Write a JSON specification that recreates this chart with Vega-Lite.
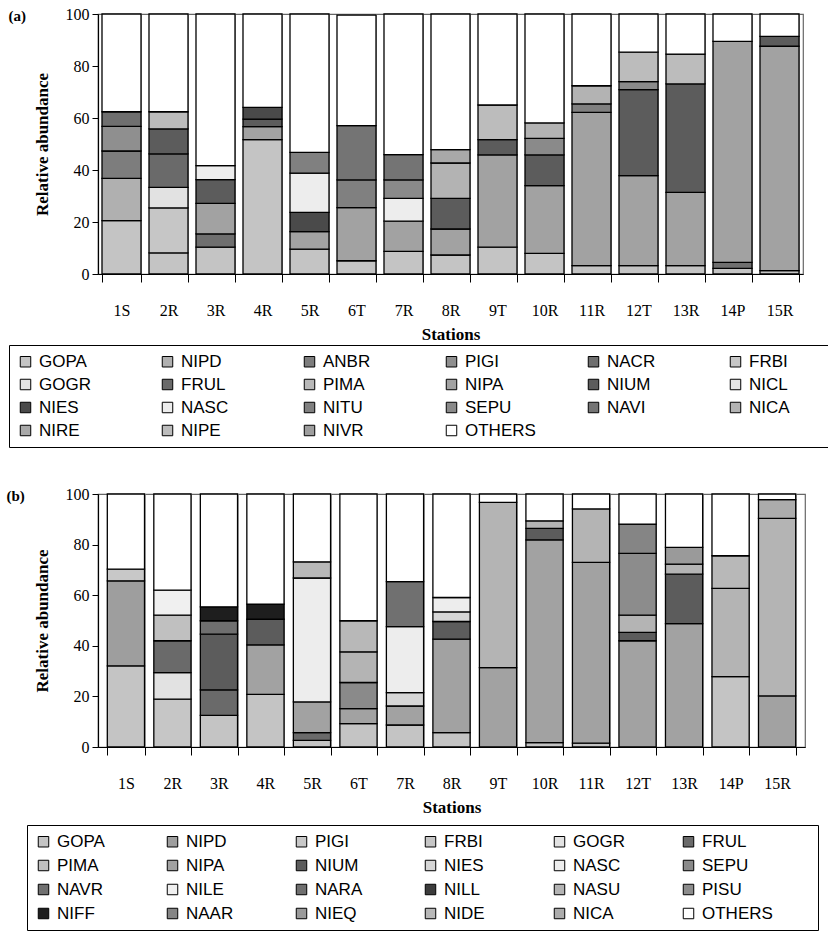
{
  "$schema": "https://vega.github.io/schema/vega-lite/v6.json",
  "padding": {"left": 5, "top": 5, "right": 0, "bottom": 0},
  "background": "white",
  "config": {
    "view": {"stroke": "#666", "strokeWidth": 1.2},
    "axis": {
      "labelFont": "Liberation Serif, Times New Roman, serif", "titleFont": "Liberation Serif, Times New Roman, serif",
      "labelFontSize": 16, "titleFontSize": 17, "titleFontWeight": "bold",
      "labelColor": "black", "titleColor": "black",
      "domainColor": "black", "tickColor": "black", "domainWidth": 1.2
    },
    "legend": {
      "labelFont": "Liberation Sans, Arial, sans-serif", "labelFontSize": 17, "labelColor": "black",
      "symbolType": "square", "symbolSize": 110, "symbolStrokeColor": "black", "symbolStrokeWidth": 1,
      "strokeColor": "black", "padding": 8, "rowPadding": 5, "gridAlign": "all",
      "labelOffset": 5, "columns": 6, "direction": "horizontal",
      "titleOrient": "right", "titleFontSize": 4
    },
    "title": {"font": "Liberation Serif, Times New Roman, serif", "fontSize": 15, "fontWeight": "bold", "color": "black"}
  },
  "datasets": {
    "a": [
      {"station":"1S","species":"GOPA","value":20.5},{"station":"1S","species":"NIPD","value":16.3},{"station":"1S","species":"ANBR","value":10.5},{"station":"1S","species":"PIGI","value":9.5},{"station":"1S","species":"NACR","value":5.6},{"station":"1S","species":"OTHERS","value":37.6},
      {"station":"2R","species":"GOPA","value":8.1},{"station":"2R","species":"FRBI","value":17.3},{"station":"2R","species":"GOGR","value":7.9},{"station":"2R","species":"FRUL","value":12.9},{"station":"2R","species":"NIUM","value":9.6},{"station":"2R","species":"NIPE","value":6.6},{"station":"2R","species":"OTHERS","value":37.6},
      {"station":"3R","species":"GOPA","value":10.3},{"station":"3R","species":"NACR","value":5.1},{"station":"3R","species":"NIPA","value":11.8},{"station":"3R","species":"NIUM","value":9.1},{"station":"3R","species":"NASC","value":5.4},{"station":"3R","species":"OTHERS","value":58.3},
      {"station":"4R","species":"GOPA","value":51.7},{"station":"4R","species":"NIPA","value":5.0},{"station":"4R","species":"NIUM","value":2.9},{"station":"4R","species":"NIES","value":4.5},{"station":"4R","species":"OTHERS","value":35.9},
      {"station":"5R","species":"GOPA","value":9.6},{"station":"5R","species":"NIPA","value":6.7},{"station":"5R","species":"NIES","value":7.4},{"station":"5R","species":"NASC","value":15.1},{"station":"5R","species":"NITU","value":8.0},{"station":"5R","species":"OTHERS","value":53.2},
      {"station":"6T","species":"GOPA","value":5.1},{"station":"6T","species":"NIPA","value":20.4},{"station":"6T","species":"NITU","value":10.7},{"station":"6T","species":"NAVI","value":20.9},{"station":"6T","species":"OTHERS","value":42.5},
      {"station":"7R","species":"GOPA","value":8.7},{"station":"7R","species":"NIPA","value":11.6},{"station":"7R","species":"NASC","value":8.8},{"station":"7R","species":"SEPU","value":7.1},{"station":"7R","species":"NAVI","value":9.7},{"station":"7R","species":"OTHERS","value":54.1},
      {"station":"8R","species":"GOPA","value":7.3},{"station":"8R","species":"NIPA","value":10.0},{"station":"8R","species":"NIUM","value":11.8},{"station":"8R","species":"NICA","value":13.6},{"station":"8R","species":"NIRE","value":5.1},{"station":"8R","species":"OTHERS","value":52.2},
      {"station":"9T","species":"GOPA","value":10.3},{"station":"9T","species":"NIPA","value":35.5},{"station":"9T","species":"NIUM","value":5.9},{"station":"9T","species":"NIPE","value":13.3},{"station":"9T","species":"OTHERS","value":35.0},
      {"station":"10R","species":"GOPA","value":7.9},{"station":"10R","species":"NIPA","value":26.1},{"station":"10R","species":"NIUM","value":11.8},{"station":"10R","species":"SEPU","value":6.4},{"station":"10R","species":"NICA","value":5.9},{"station":"10R","species":"OTHERS","value":41.9},
      {"station":"11R","species":"GOPA","value":3.2},{"station":"11R","species":"NIPA","value":59.0},{"station":"11R","species":"NITU","value":3.2},{"station":"11R","species":"NICA","value":7.0},{"station":"11R","species":"OTHERS","value":27.6},
      {"station":"12T","species":"GOPA","value":3.2},{"station":"12T","species":"NIPA","value":34.6},{"station":"12T","species":"NIUM","value":33.1},{"station":"12T","species":"SEPU","value":3.1},{"station":"12T","species":"NIPE","value":11.3},{"station":"12T","species":"OTHERS","value":14.7},
      {"station":"13R","species":"GOPA","value":3.2},{"station":"13R","species":"NIPA","value":28.2},{"station":"13R","species":"NIUM","value":41.7},{"station":"13R","species":"NIPE","value":11.5},{"station":"13R","species":"OTHERS","value":15.4},
      {"station":"14P","species":"GOPA","value":2.2},{"station":"14P","species":"NACR","value":2.3},{"station":"14P","species":"NIPA","value":85.0},{"station":"14P","species":"OTHERS","value":10.5},
      {"station":"15R","species":"GOPA","value":1.3},{"station":"15R","species":"NIPA","value":86.3},{"station":"15R","species":"NIUM","value":3.8},{"station":"15R","species":"OTHERS","value":8.6}
    ],
    "b": [
      {"station":"1S","species":"GOPA","value":32.1},{"station":"1S","species":"NIPD","value":33.6},{"station":"1S","species":"PIGI","value":4.6},{"station":"1S","species":"OTHERS","value":29.7},
      {"station":"2R","species":"FRBI","value":18.9},{"station":"2R","species":"GOGR","value":10.5},{"station":"2R","species":"FRUL","value":12.6},{"station":"2R","species":"PIMA","value":10.1},{"station":"2R","species":"NILE","value":9.9},{"station":"2R","species":"OTHERS","value":38.0},
      {"station":"3R","species":"GOPA","value":12.5},{"station":"3R","species":"FRUL","value":10.1},{"station":"3R","species":"NIUM","value":22.0},{"station":"3R","species":"NARA","value":5.3},{"station":"3R","species":"NIFF","value":5.5},{"station":"3R","species":"OTHERS","value":44.6},
      {"station":"4R","species":"GOPA","value":20.8},{"station":"4R","species":"NIPA","value":19.6},{"station":"4R","species":"NIUM","value":10.1},{"station":"4R","species":"NIFF","value":6.0},{"station":"4R","species":"OTHERS","value":43.5},
      {"station":"5R","species":"GOPA","value":2.6},{"station":"5R","species":"FRUL","value":3.1},{"station":"5R","species":"NIPA","value":12.1},{"station":"5R","species":"NASC","value":49.0},{"station":"5R","species":"NIDE","value":6.4},{"station":"5R","species":"OTHERS","value":26.8},
      {"station":"6T","species":"GOPA","value":9.2},{"station":"6T","species":"NIPA","value":6.0},{"station":"6T","species":"SEPU","value":10.3},{"station":"6T","species":"NASU","value":12.1},{"station":"6T","species":"NIDE","value":12.3},{"station":"6T","species":"OTHERS","value":50.1},
      {"station":"7R","species":"GOPA","value":8.7},{"station":"7R","species":"NIPA","value":7.5},{"station":"7R","species":"NIES","value":5.3},{"station":"7R","species":"NASC","value":26.1},{"station":"7R","species":"NAVR","value":17.8},{"station":"7R","species":"OTHERS","value":34.6},
      {"station":"8R","species":"GOPA","value":5.7},{"station":"8R","species":"NIPA","value":36.9},{"station":"8R","species":"NIUM","value":7.0},{"station":"8R","species":"NIES","value":3.8},{"station":"8R","species":"NASC","value":5.7},{"station":"8R","species":"OTHERS","value":40.9},
      {"station":"9T","species":"NIPA","value":31.4},{"station":"9T","species":"NASU","value":65.3},{"station":"9T","species":"OTHERS","value":3.3},
      {"station":"10R","species":"GOPA","value":1.7},{"station":"10R","species":"NIPA","value":80.2},{"station":"10R","species":"NIUM","value":4.5},{"station":"10R","species":"NASU","value":3.0},{"station":"10R","species":"OTHERS","value":10.6},
      {"station":"11R","species":"GOPA","value":1.5},{"station":"11R","species":"NIPA","value":71.5},{"station":"11R","species":"NASU","value":21.1},{"station":"11R","species":"OTHERS","value":5.9},
      {"station":"12T","species":"NIPA","value":42.0},{"station":"12T","species":"NIUM","value":3.3},{"station":"12T","species":"NASU","value":6.8},{"station":"12T","species":"PISU","value":24.4},{"station":"12T","species":"NAAR","value":11.6},{"station":"12T","species":"OTHERS","value":11.9},
      {"station":"13R","species":"NIPA","value":48.8},{"station":"13R","species":"NIUM","value":19.5},{"station":"13R","species":"NASU","value":4.0},{"station":"13R","species":"NIEQ","value":6.6},{"station":"13R","species":"OTHERS","value":21.1},
      {"station":"14P","species":"GOPA","value":27.8},{"station":"14P","species":"NASU","value":34.9},{"station":"14P","species":"NIDE","value":12.9},{"station":"14P","species":"OTHERS","value":24.4},
      {"station":"15R","species":"NIPA","value":20.2},{"station":"15R","species":"NASU","value":70.2},{"station":"15R","species":"NICA","value":7.4},{"station":"15R","species":"OTHERS","value":2.2}
    ]
  },
  "vconcat": [
    {
      "title": {"text": "(a)", "anchor": "start", "frame": "bounds", "offset": -18, "dx": 0},
      "width": 705, "height": 260,
      "data": {"name": "a"},
      "transform": [{"calculate": "indexof(['GOPA','NIPD','ANBR','PIGI','NACR','FRBI','GOGR','FRUL','PIMA','NIPA','NIUM','NICL','NIES','NASC','NITU','SEPU','NAVI','NICA','NIRE','NIPE','NIVR','OTHERS'], datum.species)", "as": "rank"}],
      "mark": {"type": "bar", "stroke": "black", "strokeWidth": 1.3},
      "encoding": {
        "x": {"field": "station", "type": "nominal",
          "sort": ["1S","2R","3R","4R","5R","6T","7R","8R","9T","10R","11R","12T","13R","14P","15R"],
          "scale": {"paddingInner": 0.17, "paddingOuter": 0.085},
          "axis": {"title": "Stations", "labelAngle": 0, "tickBand": "extent", "grid": true, "gridColor": "#aaa", "tickSize": 8, "labelPadding": 20, "titlePadding": 8}},
        "y": {"field": "value", "type": "quantitative", "stack": "zero",
          "scale": {"domain": [0, 100], "nice": false},
          "axis": {"values": [0,20,40,60,80,100], "title": "Relative abundance", "grid": false, "tickSize": 6, "labelPadding": 3, "titlePadding": 14}},
        "order": {"field": "rank", "type": "quantitative", "sort": "ascending"},
        "color": {"field": "species", "type": "nominal",
          "scale": {
            "domain": ["GOPA","NIPD","ANBR","PIGI","NACR","FRBI","GOGR","FRUL","PIMA","NIPA","NIUM","NICL","NIES","NASC","NITU","SEPU","NAVI","NICA","NIRE","NIPE","NIVR","OTHERS"],
            "range": ["#c4c4c4","#b0b0b0","#7d7d7d","#8f8f8f","#6f6f6f","#c6c6c6","#e2e2e2","#6a6a6a","#b8b8b8","#a2a2a2","#5c5c5c","#e6e6e6","#4a4a4a","#ededed","#808080","#8a8a8a","#747474","#b3b3b3","#a9a9a9","#bcbcbc","#9e9e9e","#ffffff"]},
          "legend": {"title": " ", "titlePadding": 43, "orient": "none", "legendX": -89, "legendY": 331, "columnPadding": 49}}
      }
    },
    {
      "title": {"text": "(b)", "anchor": "start", "frame": "bounds", "offset": -18, "dx": -20},
      "width": 707, "height": 253,
      "data": {"name": "b"},
      "transform": [{"calculate": "indexof(['GOPA','NIPD','PIGI','FRBI','GOGR','FRUL','PIMA','NIPA','NIUM','NIES','NASC','SEPU','NAVR','NILE','NARA','NILL','NASU','PISU','NIFF','NAAR','NIEQ','NIDE','NICA','OTHERS'], datum.species)", "as": "rank"}],
      "mark": {"type": "bar", "stroke": "black", "strokeWidth": 1.3},
      "encoding": {
        "x": {"field": "station", "type": "nominal",
          "sort": ["1S","2R","3R","4R","5R","6T","7R","8R","9T","10R","11R","12T","13R","14P","15R"],
          "scale": {"paddingInner": 0.2, "paddingOuter": 0.2},
          "axis": {"title": "Stations", "labelAngle": 0, "tickBand": "extent", "grid": true, "gridColor": "#aaa", "tickSize": 8, "labelPadding": 20, "titlePadding": 8}},
        "y": {"field": "value", "type": "quantitative", "stack": "zero",
          "scale": {"domain": [0, 100], "nice": false},
          "axis": {"values": [0,20,40,60,80,100], "title": "Relative abundance", "grid": false, "tickSize": 6, "labelPadding": 3, "titlePadding": 14}},
        "order": {"field": "rank", "type": "quantitative", "sort": "ascending"},
        "color": {"field": "species", "type": "nominal",
          "scale": {
            "domain": ["GOPA","NIPD","PIGI","FRBI","GOGR","FRUL","PIMA","NIPA","NIUM","NIES","NASC","SEPU","NAVR","NILE","NARA","NILL","NASU","PISU","NIFF","NAAR","NIEQ","NIDE","NICA","OTHERS"],
            "range": ["#c4c4c4","#9e9e9e","#c8c8c8","#c6c6c6","#e2e2e2","#6a6a6a","#c0c0c0","#a2a2a2","#5c5c5c","#d6d6d6","#ededed","#8a8a8a","#707070","#f0f0f0","#6f6f6f","#3c3c3c","#b4b4b4","#8c8c8c","#1e1e1e","#858585","#9a9a9a","#b8b8b8","#acacac","#ffffff"]},
          "legend": {"title": " ", "titlePadding": 37, "orient": "none", "legendX": -71, "legendY": 331, "columnPadding": 36, "rowPadding": 6}}
      }
    }
  ],
  "spacing": 36,
  "resolve": {"scale": {"color": "independent", "x": "independent", "y": "independent"}, "legend": {"color": "independent"}}
}
